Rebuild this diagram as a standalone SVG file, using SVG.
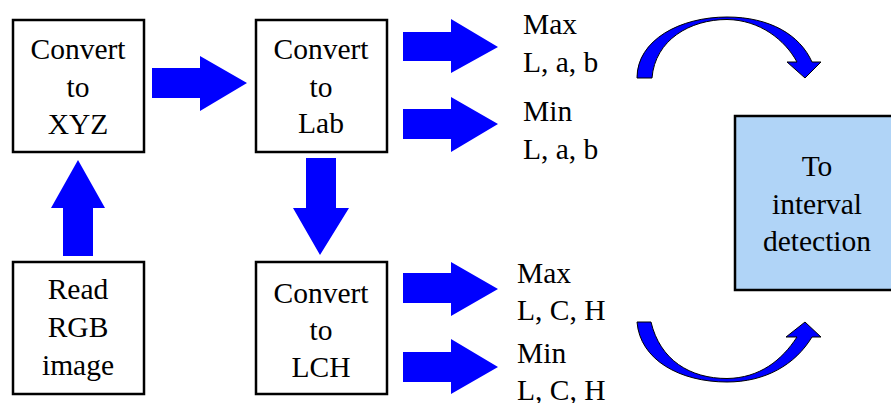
<svg xmlns="http://www.w3.org/2000/svg" width="891" height="403" viewBox="0 0 891 403">
<style>
text{font-family:"Liberation Serif","Times New Roman",serif;font-size:29.5px;fill:#000}
.c{text-anchor:middle}
.box{fill:#fff;stroke:#000;stroke-width:2.5}
.blue{fill:#b0d4f7;stroke:#000;stroke-width:2.5}
.arr{fill:#0000ff}
.curve{fill:#0000ff;stroke:#000;stroke-width:1}
</style>
<rect width="891" height="403" fill="#fff"/>
<g id="connectors">
<path class="arr" d="M152,68 H200 V56 L247,83 L200,111 V98 H152 Z"/>
<path class="arr" d="M63,256 V208 H51 L78,160 L105,208 H93 V256 Z"/>
<path class="arr" d="M306,158 V208 H293 L320,255 L349,208 H336 V158 Z"/>
<path class="arr" d="M403,32 H451 V19 L498,47 L451,73 V61 H403 Z"/>
<path class="arr" d="M403,109 H451 V97 L498,124 L451,152 V139 H403 Z"/>
<path class="arr" d="M403,273 H451 V262 L498,289 L451,316 V303 H403 Z"/>
<path class="arr" d="M403,352 H451 V339 L498,367 L451,394 V382 H403 Z"/>
<path class="curve" d="M637,78 C637,40 680,17 727,17 C770,17 800,35 812,62 L821,62 L805,78 L787,62 L797,62 C785,40 760,20 727,19.5 C690,19.5 655,40 652,78 Z"/>
<path class="curve" d="M637,322 C640,360 680,382 727,382 C765,382 795,365 812,337 L821,337 L805,322 L786,337 L797,337 C782,360 760,378 727,378.5 C690,378.5 660,360 651,322 Z"/>
</g>
<g id="xyz">
<rect class="box" x="13" y="20" width="131" height="132"/>
<text class="c" x="78" y="59">Convert</text>
<text class="c" x="78" y="97">to</text>
<text class="c" x="78" y="134">XYZ</text>
</g>
<g id="lab">
<rect class="box" x="256" y="20" width="131" height="132"/>
<text class="c" x="321" y="59">Convert</text>
<text class="c" x="321" y="97">to</text>
<text class="c" x="321" y="133">Lab</text>
</g>
<g id="rgb">
<rect class="box" x="13" y="262" width="131" height="132"/>
<text class="c" x="78" y="299">Read</text>
<text class="c" x="78" y="337">RGB</text>
<text class="c" x="78" y="375">image</text>
</g>
<g id="lch">
<rect class="box" x="256" y="262" width="131" height="132"/>
<text class="c" x="321" y="303">Convert</text>
<text class="c" x="321" y="340">to</text>
<text class="c" x="321" y="377">LCH</text>
</g>
<g id="interval">
<rect class="blue" x="735" y="116" width="160" height="174"/>
<text class="c" x="817" y="176">To</text>
<text class="c" x="817" y="214">interval</text>
<text class="c" x="817" y="251">detection</text>
</g>
<g id="lab-labels">
<text x="523" y="34">Max</text>
<text x="523" y="72">L, a, b</text>
<text x="523" y="121">Min</text>
<text x="523" y="159">L, a, b</text>
</g>
<g id="lch-labels">
<text x="517" y="283">Max</text>
<text x="517" y="320">L, C, H</text>
<text x="517" y="363">Min</text>
<text x="517" y="400">L, C, H</text>
</g>
</svg>
